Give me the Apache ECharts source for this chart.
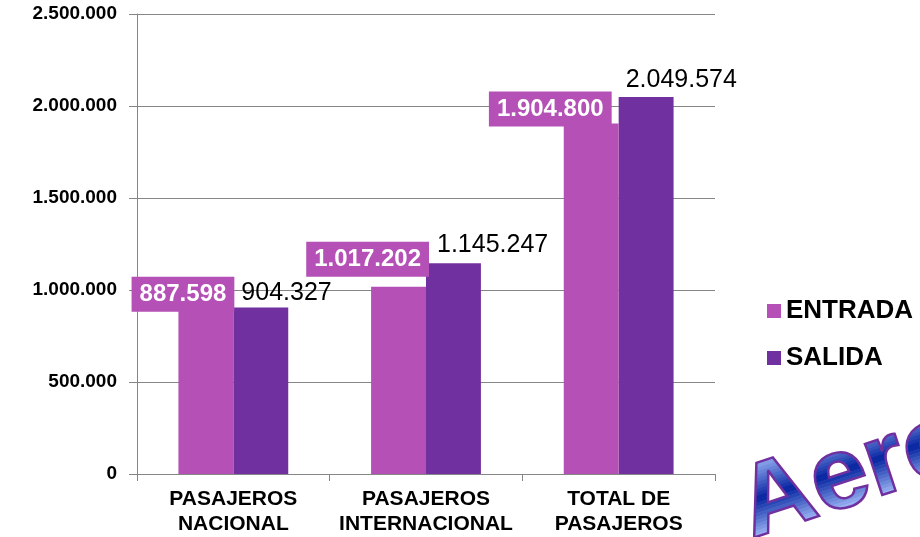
<!DOCTYPE html>
<html>
<head>
<meta charset="utf-8">
<script src="https://cdn.jsdelivr.net/npm/echarts@6/dist/echarts.min.js"></script>
<style>
  html, body { margin: 0; padding: 0; background: #fff; }
  #chart { width: 920px; height: 537px; }
</style>
</head>
<body>
<div id="chart"></div>
<script>
// datos
const categorias = ['PASAJEROS\nNACIONAL', 'PASAJEROS\nINTERNACIONAL', 'TOTAL DE\nPASAJEROS']
const entrada = [887598, 1017202, 1904800]
const salida = [904327, 1145247, 2049574]
const ticksY = [0, 500000, 1000000, 1500000, 2000000, 2500000]

// desplazamiento de las etiquetas (movidas a mano en el original)
const offEntrada = [[1, 1], [3, -10], [-7, 3]]
const offSalida = [[8, -2], [11, -6], [7, -4]]

// 887598 -> 887.598
function miles(v) {
  return String(v).replace(/\B(?=(\d{3})+(?!\d))/g, '.')
}

const chart = echarts.init(document.getElementById('chart'))
const font = 'Liberation Sans, Arial, sans-serif'

chart.setOption({
  animation: false,
  textStyle: { fontFamily: font },
  color: ['#B450B6', '#7030A0'],
  grid: { left: 137, right: 205, top: 14, bottom: 62 },
  legend: {
    orient: 'vertical',
    left: 767,
    top: 298,
    padding: 0,
    itemWidth: 14,
    itemHeight: 14,
    itemGap: 21,
    icon: 'rect',
    textStyle: { fontSize: 26, fontWeight: 'bold', color: '#000', fontFamily: font },
    data: ['ENTRADA', 'SALIDA']
  },
  xAxis: {
    type: 'category',
    data: categorias,
    axisLine: { lineStyle: { color: '#868686' } },
    axisTick: { show: true, length: 7, lineStyle: { color: '#868686' } },
    axisLabel: { interval: 0, fontSize: 21, fontWeight: 'bold', color: '#000', lineHeight: 25, margin: 13 }
  },
  yAxis: {
    type: 'value',
    min: ticksY[0],
    max: ticksY[ticksY.length - 1],
    interval: 500000,
    axisLine: { show: true, lineStyle: { color: '#868686' } },
    axisTick: { show: true, length: 8, lineStyle: { color: '#868686' } },
    splitLine: { lineStyle: { color: '#868686' } },
    axisLabel: { fontSize: 19, fontWeight: 'bold', color: '#000', margin: 20, formatter: v => miles(v) }
  },
  series: [
    {
      name: 'ENTRADA',
      type: 'bar',
      data: entrada.map((v, i) => ({ value: v, label: { offset: offEntrada[i] } })),
      barGap: '0%',
      barCategoryGap: '43%',
      z: 3,
      label: {
        show: true,
        position: ['100%', 0],
        align: 'right',
        verticalAlign: 'bottom',
        backgroundColor: '#B450B6',
        color: '#fff',
        fontSize: 24,
        fontWeight: 'bold',
        padding: [6, 8, 5, 8],
        formatter: p => miles(p.value)
      }
    },
    {
      name: 'SALIDA',
      type: 'bar',
      data: salida.map((v, i) => ({ value: v, label: { offset: offSalida[i] } })),
      label: {
        show: true,
        position: [0, 0],
        align: 'left',
        verticalAlign: 'bottom',
        color: '#000',
        fontSize: 25,
        formatter: p => miles(p.value)
      }
    }
  ]
})

// marca de agua "Aeropuerto": el texto no admite degradado, asi que se pinta
// por franjas recortadas con colores intermedios
const marca = new echarts.graphic.Group({ x: 759, y: 560, rotation: 0.32, z: 20 })
const fuenteMarca = 'bold 102px Liberation Sans, Arial, sans-serif'
const grad = ['#A3BBF9', '#0523A0', '#AEC6FF']
function mezcla(a, b, t) {
  const pa = parseInt(a.slice(1), 16), pb = parseInt(b.slice(1), 16)
  const c = [16, 8, 0].map(s => Math.round(((pa >> s) & 255) * (1 - t) + ((pb >> s) & 255) * t))
  return 'rgb(' + c.join(',') + ')'
}
const yTop = -98, yBot = -19, nBandas = 24
const h = (yBot - yTop) / nBandas
for (let i = 0; i < nBandas + 2; i++) {
  const t = Math.min(1, (i + 0.5) / nBandas)
  const color = t < 0.5 ? mezcla(grad[0], grad[1], t * 2) : mezcla(grad[1], grad[2], (t - 0.5) * 2)
  const y0 = i === 0 ? -140 : yTop + i * h
  const y1 = i === nBandas + 1 ? 40 : yTop + (i + 1) * h
  const txt = new echarts.graphic.Text({
    style: { text: 'Aeropuerto', font: fuenteMarca, fill: color, verticalAlign: 'bottom' },
    z: 20
  })
  txt.setClipPath(new echarts.graphic.Rect({ shape: { x: -20, y: y0, width: 800, height: y1 - y0 + 0.6 } }))
  marca.add(txt)
}
marca.add(new echarts.graphic.Text({
  style: { text: 'Aeropuerto', font: fuenteMarca, fill: 'none', stroke: '#7030A0', lineWidth: 2.5, verticalAlign: 'bottom' },
  z: 21
}))
chart.getZr().add(marca)
</script>
</body>
</html>
